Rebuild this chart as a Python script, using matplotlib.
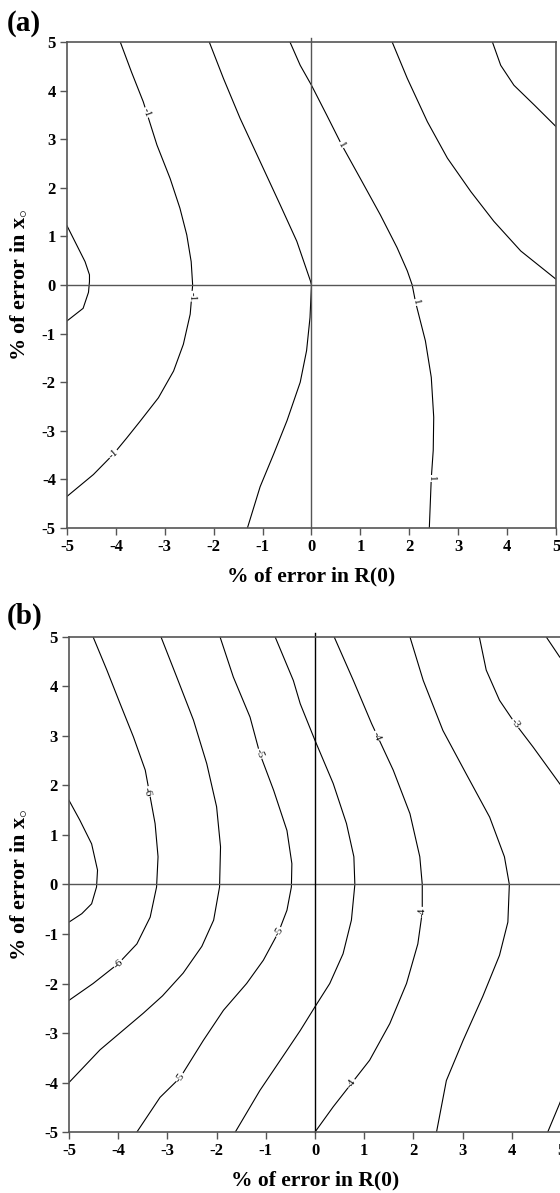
import matplotlib
matplotlib.use("Agg")
import matplotlib.pyplot as plt

plt.rcParams['font.family'] = ['Liberation Serif', 'DejaVu Serif']
plt.rcParams['mathtext.fontset'] = 'custom'
plt.rcParams['mathtext.rm'] = 'Liberation Serif:bold'
plt.rcParams['mathtext.it'] = 'Liberation Serif:bold'

# ---- panel (a): contour lines (x, y) ----
a0_x = [-5.0, -4.80, -4.63, -4.54, -4.54, -4.56, -4.67, -5.0]
a0_y = [1.22, 0.82, 0.48, 0.21, 0.07, -0.15, -0.48, -0.74]
a1_x = [-3.91, -3.68, -3.44, -3.16, -2.89, -2.69, -2.55, -2.46, -2.43, -2.48, -2.62,
        -2.82, -3.13, -3.51, -3.78, -4.05, -4.46, -5.0]
a1_y = [5.0, 4.38, 3.77, 2.88, 2.19, 1.58, 1.03, 0.48, 0.0, -0.60, -1.22,
        -1.77, -2.32, -2.81, -3.15, -3.48, -3.90, -4.35]
a2_x = [-2.09, -1.80, -1.46, -1.05, -0.64, -0.30, -0.02, 0.0, -0.03, -0.10, -0.23,
        -0.50, -0.77, -1.05, -1.31]
a2_y = [5.0, 4.25, 3.43, 2.54, 1.65, 0.90, 0.08, 0.0, -0.67, -1.35, -2.0,
        -2.79, -3.47, -4.15, -5.0]
a3_x = [-0.44, -0.23, 0.0, 0.31, 0.62, 1.0, 1.41, 1.75, 1.96, 2.06, 2.13, 2.33, 2.45,
        2.50, 2.49, 2.45, 2.41]
a3_y = [5.0, 4.52, 4.11, 3.50, 2.88, 2.19, 1.44, 0.77, 0.29, 0.0, -0.36, -1.15, -1.90,
        -2.72, -3.40, -3.98, -5.0]
a4_x = [1.65, 1.96, 2.37, 2.78, 3.26, 3.73, 4.28, 5.0]
a4_y = [5.0, 4.25, 3.36, 2.61, 1.92, 1.31, 0.70, 0.12]
a5_x = [3.70, 3.87, 4.14, 4.56, 5.0]
a5_y = [5.0, 4.52, 4.11, 3.70, 3.26]
a_lines = [(a0_x, a0_y), (a1_x, a1_y), (a2_x, a2_y), (a3_x, a3_y), (a4_x, a4_y), (a5_x, a5_y)]

a_label_text = ['-1', '-1', '-1', '1', '1', '1']
a_label_x = [-3.37, -2.43, -4.05, 0.62, 2.13, 2.45]
a_label_y = [3.55, -0.23, -3.48, 2.88, -0.36, -3.98]
a_label_rot = [-70, -88, 40, -61, -77, -88]

# ---- panel (b) ----
b0_x = [-5.0, -4.78, -4.54, -4.42, -4.44, -4.54, -4.74, -5.0]
b0_y = [1.70, 1.30, 0.82, 0.29, -0.05, -0.39, -0.59, -0.76]
b1_x = [-4.51, -4.23, -3.96, -3.69, -3.45, -3.25, -3.19, -3.22, -3.35, -3.62, -4.0,
        -4.51, -5.0]
b1_y = [5.0, 4.33, 3.65, 2.98, 2.31, 1.23, 0.56, -0.05, -0.66, -1.20, -1.60,
        -2.0, -2.34]
b2_x = [-3.13, -2.81, -2.47, -2.20, -2.0, -1.92, -1.94, -2.06, -2.30, -2.68, -3.10,
        -3.49, -4.37, -5.0]
b2_y = [5.0, 4.19, 3.32, 2.44, 1.57, 0.76, -0.05, -0.72, -1.25, -1.79, -2.25,
        -2.60, -3.34, -4.0]
b3_x = [-1.93, -1.66, -1.32, -1.12, -0.84, -0.57, -0.47, -0.48, -0.57, -0.74, -1.05,
        -1.39, -1.86, -2.27, -2.74, -3.15, -3.62]
b3_y = [5.0, 4.19, 3.38, 2.64, 1.90, 1.09, 0.42, -0.05, -0.52, -0.96, -1.53,
        -2.0, -2.54, -3.15, -3.90, -4.30, -5.0]
b4_x = [-0.81, -0.44, -0.30, 0.0, 0.37, 0.64, 0.79, 0.81, 0.74, 0.57, 0.30, 0.0,
        -0.30, -0.57, -1.12, -1.62]
b4_y = [5.0, 4.12, 3.65, 2.91, 2.04, 1.23, 0.56, 0.0, -0.72, -1.40, -2.0, -2.47,
        -2.95, -3.35, -4.16, -5.0]
b5_x = [0.39, 0.78, 1.15, 1.59, 1.93, 2.13, 2.18, 2.18, 2.09, 1.86, 1.52, 1.11,
        0.74, 0.37, 0.0]
b5_y = [5.0, 4.12, 3.25, 2.31, 1.43, 0.56, 0.0, -0.56, -1.20, -2.0, -2.81, -3.55,
        -4.02, -4.49, -5.0]
b6_x = [1.93, 2.20, 2.60, 3.07, 3.55, 3.85, 3.95, 3.92, 3.75, 3.41, 3.01, 2.67, 2.47]
b6_y = [5.0, 4.12, 3.11, 2.24, 1.36, 0.56, 0.0, -0.76, -1.43, -2.26, -3.15, -3.96, -5.0]
b7_x = [3.34, 3.48, 3.75, 4.07, 4.43, 4.97, 5.1]
b7_y = [5.0, 4.33, 3.72, 3.25, 2.78, 2.04, 1.87]
b8_x = [4.70, 4.97, 5.1]
b8_y = [5.0, 4.6, 4.45]
b9_x = [4.73, 4.97, 5.1]
b9_y = [-5.0, -4.43, -4.1]
b_lines = [(b0_x, b0_y), (b1_x, b1_y), (b2_x, b2_y), (b3_x, b3_y), (b4_x, b4_y),
           (b5_x, b5_y), (b6_x, b6_y), (b7_x, b7_y), (b8_x, b8_y), (b9_x, b9_y)]

b_label_text = ['-6', '-6', '-5', '-5', '-5', '-4', '-4', '-4', '-3']
b_label_x = [-3.41, -4.0, -1.12, -0.74, -2.74, 1.25, 2.18, 0.74, 4.07]
b_label_y = [1.87, -1.60, 2.64, -0.96, -3.90, 3.0, -0.56, -4.02, 3.25]
b_label_rot = [-76, 40, -70, 58, 55, -68, 88, 55, -56]

ticks = [-5, -4, -3, -2, -1, 0, 1, 2, 3, 4, 5]

fig = plt.figure(figsize=(5.6, 11.93), dpi=100)
ax_a = fig.add_axes([0.1196, 0.5574, 0.8732, 0.4074])
ax_b = fig.add_axes([0.1232, 0.0511, 0.8786, 0.4150])

spine_col = '#555555'


def draw_panel(ax, lines, ltext, lx, ly, lrot, vcol, ylab_x):
    for xs, ys in lines:
        ax.plot(xs, ys, color='black', lw=0.8, solid_joinstyle='round')
    ax.axhline(0, color=spine_col, lw=1.0)
    ax.plot([0, 0], [5.08, -5], color=vcol, lw=1.0, clip_on=False)
    for t, x, y, r in zip(ltext, lx, ly, lrot):
        ax.text(x, y, t, rotation=r, fontsize=8, ha='center', va='center',
                rotation_mode='anchor',
                bbox=dict(facecolor='white', edgecolor='none', pad=0.5))
    ax.set_xlim(-5, 5)
    ax.set_ylim(-5, 5)
    ax.set_xticks(ticks)
    ax.set_yticks(ticks)
    ax.set_xticklabels([str(t) for t in ticks], fontweight='bold', fontsize=12)
    ax.set_yticklabels([str(t) for t in ticks], fontweight='bold', fontsize=12)
    ax.tick_params(direction='out', length=5, width=1.0, color=spine_col, pad=3)
    for s in ax.spines.values():
        s.set_color(spine_col)
        s.set_linewidth(1.2)
    ax.set_xlabel('% of error in R(0)', fontweight='bold', fontsize=15.5, labelpad=8)
    ax.set_ylabel(r'% of error in x$_{\circ}$', fontweight='bold', fontsize=16)
    ax.yaxis.set_label_coords(ylab_x, 0.5)


draw_panel(ax_a, a_lines, a_label_text, a_label_x, a_label_y, a_label_rot, spine_col, -0.078)
draw_panel(ax_b, b_lines, b_label_text, b_label_x, b_label_y, b_label_rot, 'black', -0.081)

fig.text(0.012, 0.980, '(a)', fontsize=21, fontweight='bold', va='center', ha='left')
fig.text(0.012, 0.4837, '(b)', fontsize=21, fontweight='bold', va='center', ha='left')

fig.savefig('out.png', dpi=100)
